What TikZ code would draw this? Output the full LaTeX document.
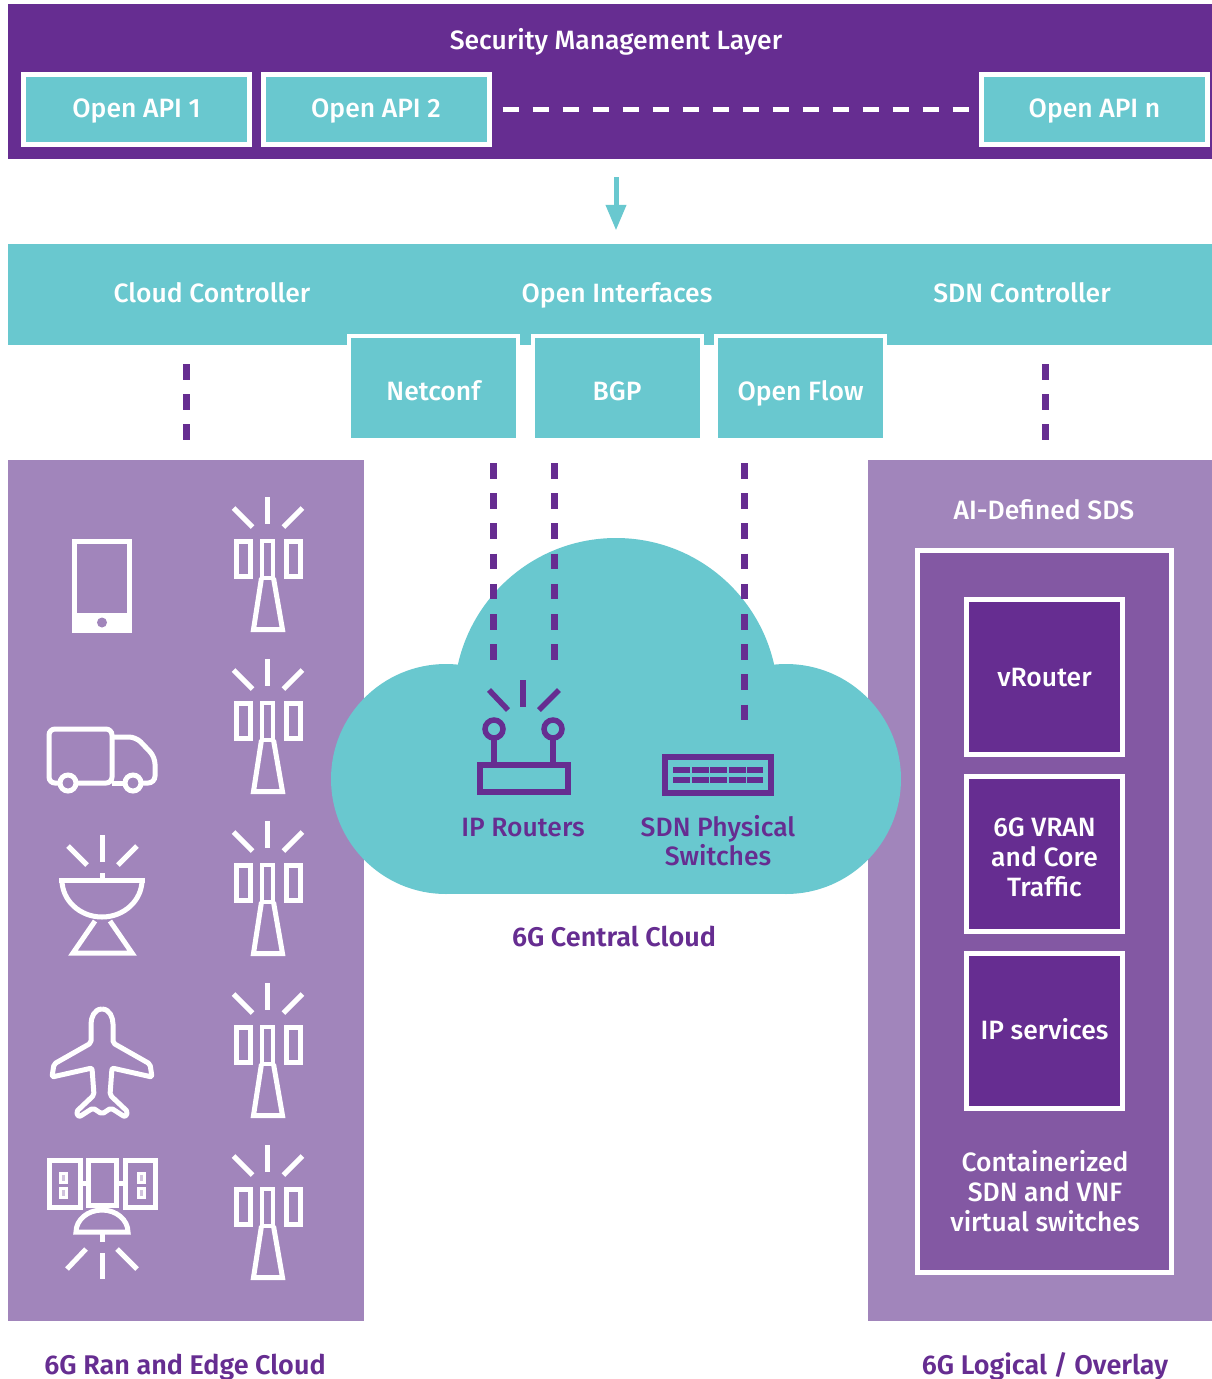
\documentclass[tikz,border=0pt]{standalone}
\usepackage{fontspec}
\setmainfont{Fira Sans}[UprightFont=* Medium, BoldFont=* SemiBold]
\usetikzlibrary{shapes.geometric, arrows}
\definecolor{darkpurple}{HTML}{662D91}
\definecolor{midpurple}{HTML}{8358A3}
\definecolor{lavender}{HTML}{A185BB}
\definecolor{aqua}{HTML}{69C8CF}
\tikzstyle{bar} = [rectangle, inner sep=0pt, text centered]
\tikzstyle{oneline} = [text height=18.3pt, text depth=0pt]
\tikzstyle{label} = [inner sep=0pt, text=white, font=\fontsize{26.5}{30}\selectfont, align=center]
\tikzstyle{caption} = [inner sep=0pt, text=darkpurple, font=\fontsize{27}{29}\selectfont\bfseries, align=center]
\tikzstyle{apibox} = [rectangle, inner sep=0pt, minimum width=226pt, minimum height=70pt, draw=white, line width=5pt, fill=aqua, text=white, text height=16.4pt, text depth=0pt, font=\fontsize{26.5}{30}\selectfont]
\tikzstyle{protobox} = [rectangle, inner sep=0pt, minimum width=169pt, minimum height=104pt, draw=white, line width=4pt, fill=aqua, text=white, text height=24pt, text depth=0pt, font=\fontsize{26.5}{30}\selectfont]
\tikzstyle{funcbox} = [rectangle, inner sep=0pt, minimum width=156pt, minimum height=155pt, draw=white, line width=5pt, fill=darkpurple, text=white, align=center, font=\fontsize{26.5}{30}\selectfont]
\tikzstyle{arrow} = [line width=5pt, aqua, ->, >=triangle 45]
\tikzstyle{whitedash} = [line width=5pt, white, dash pattern=on 16pt off 14pt]
\tikzstyle{purpledash} = [line width=7pt, darkpurple, dash pattern=on 15.5pt off 14.7pt]
\tikzstyle{iconw} = [draw=white, line width=5pt]
\tikzstyle{iconp} = [draw=darkpurple, line width=5.5pt]
\tikzset{
	rays/.pic={
		\draw [iconw] (0,0) -- (0,27);
		\draw [iconw] (-34,11) -- (-15,30);
		\draw [iconw] (35,11) -- (16,30);
	},
	tower/.pic={
		\pic at (0,0) {rays};
		\draw [iconw] (-31.5,44.5) rectangle (-17,79);
		\draw [iconw, line width=4pt] (-5.5,44) rectangle (5.5,81);
		\draw [iconw] (18.5,44.5) rectangle (33,79);
		\draw [iconw, line join=miter] (-6,81) -- (-14,132.5) -- (15,132.5) -- (6,81);
	}
}
\begin{document}
\begin{tikzpicture}[x=1pt, y=-1pt, node distance=100pt]
	\useasboundingbox (0,0) rectangle (1212,1379);
	\fill [white] (0,0) rectangle (1212,1379);
	\node (secbar) [bar, fill=darkpurple, minimum width=1204pt, minimum height=155pt] at (610,81.5) {};
	\node (seclabel) [label, oneline] at (616,40) {Security Management Layer};
	\node (api1) [apibox] at (136.5,109) {Open API 1};
	\node (api2) [apibox, right of=api1, xshift=139.5pt] {Open API 2};
	\node (apin) [apibox] at (1094.5,109) {Open API n};
	\draw [whitedash] ([xshift=11pt]api2.east) -- ([xshift=-9pt]apin.west);
	
	\node (ctrlbar) [bar, fill=aqua, minimum width=1204pt, minimum height=101pt] at (610,294.5) {};
	\draw [arrow, shorten <=18pt, shorten >=14pt] (secbar.south -| seclabel) -- (ctrlbar.north -| seclabel);
	\node (cloudctrl) [label, oneline] at (212,293) {Cloud Controller};
	\node (openif) [label, oneline] at (617,293) {Open Interfaces};
	\node (sdnctrl) [label, oneline] at (1022,293) {SDN Controller};
	\node (netconf) [protobox] at (433.5,388) {Netconf};
	\node (bgp) [protobox, right of=netconf, xshift=83.5pt] {BGP};
	\node (openflow) [protobox, right of=bgp, xshift=83.5pt] {Open Flow};
	
	\node (ranpanel) [bar, fill=lavender, minimum width=356pt, minimum height=861pt] at (186,890.5) {};
	\node (sdspanel) [bar, fill=lavender, minimum width=344pt, minimum height=861pt] at (1040,890.5) {};
	\coordinate (rantop) at (186,364);
	\coordinate (ranend) at (186,440);
	\coordinate (sdstop) at (1045,364);
	\coordinate (sdsend) at (1045,440);
	\draw [purpledash] (rantop) -- (ranend);
	\draw [purpledash] (sdstop) -- (sdsend);
	
	\fill [aqua] (616,700) circle (162);
	\fill [aqua] (446,779) circle (115);
	\fill [aqua] (786,779) circle (115);
	\fill [aqua] (446,700) rectangle (786,894);
	\coordinate (dash1a) at (493,463);
	\coordinate (dash1b) at (493,660);
	\coordinate (dash2a) at (554,463);
	\coordinate (dash2b) at (554,660);
	\coordinate (dash3a) at (744,463);
	\coordinate (dash3b) at (744,720);
	\draw [purpledash] (dash1a) -- (dash1b);
	\draw [purpledash] (dash2a) -- (dash2b);
	\draw [purpledash] (dash3a) -- (dash3b);
	
	% router
	\draw [iconp] (523,680) -- (523,707);
	\draw [iconp] (489,690) -- (508,710);
	\draw [iconp] (559,690) -- (539,710);
	\draw [iconp] (494,729) circle (9);
	\draw [iconp] (553,729) circle (9);
	\draw [iconp] (494,738) -- (494,765);
	\draw [iconp] (553,738) -- (553,765);
	\draw [iconp] (480,765) rectangle (568,792);
	% switch
	\draw [iconp] (665,757) rectangle (771,793);
	\draw [line width=6pt, darkpurple, dash pattern=on 17pt off 1.5pt] (673,770) -- (763,770);
	\draw [line width=6pt, darkpurple, dash pattern=on 17pt off 1.5pt] (673,780) -- (763,780);
	\node (iprouters) [label, text=darkpurple, oneline] at (523,827) {IP Routers};
	\node (sdnswitch) [label, text=darkpurple, font=\fontsize{26.5}{29}\selectfont] at (718,841) {SDN Physical\\Switches};
	\node (central) [caption, oneline] at (614,937) {6G Central Cloud};
	
	% towers
	\pic at (267.5,497) {tower};
	\pic at (267.5,659) {tower};
	\pic at (267.5,821) {tower};
	\pic at (267.5,983) {tower};
	\pic at (267.5,1145) {tower};
	% tablet
	\draw [iconw] (74.5,541.5) rectangle (129.5,630.5);
	\fill [white] (74,613) rectangle (130,631);
	\fill [lavender] (102,622.5) circle (5);
	% truck
	\draw [iconw, rounded corners=6pt] (60,783) -- (49,783) -- (49,729) -- (112,729) -- (112,783) -- (76,783);
	\draw [iconw, rounded corners=7pt] (112,737) -- (136,737) -- (155,757) -- (155,783) -- (141,783);
	\draw [iconw] (125,783) -- (112,783);
	\draw [iconw] (68,783) circle (8);
	\draw [iconw] (133,783) circle (8);
	% dish
	\pic at (102,835) {rays};
	\draw [iconw] (102,873) -- (102,880);
	\draw [iconw] (59,880.5) -- (145,880.5);
	\draw [iconw] (62,880) arc (180:0:40 and 37);
	\draw [iconw] (95,921) -- (73,953) -- (132,953) -- (110,921);
	% plane
	\draw [iconw, line join=round, rounded corners=2pt] (102,1009) .. controls (94,1009) and (91,1018) .. (91,1026) -- (91,1043) -- (54,1064) -- (52,1077) -- (92,1068) -- (94,1095) -- (76,1112) -- (79,1117) -- (93,1108) -- (102,1114) -- (111,1108) -- (125,1117) -- (128,1112) -- (110,1095) -- (112,1068) -- (152,1077) -- (150,1064) -- (113,1043) -- (113,1026) .. controls (113,1018) and (110,1009) .. (102,1009);
	% satellite
	\draw [iconw] (49.5,1160.5) rectangle (80,1207);
	\draw [iconw] (88.5,1160.5) rectangle (116.5,1205);
	\draw [iconw] (125,1160.5) rectangle (155,1207);
	\draw [iconw] (80,1183) -- (88,1183);
	\draw [iconw] (117,1183) -- (125,1183);
	\draw [draw=white, fill=white!50!lavender, line width=3pt] (60,1173.5) rectangle (66,1182);
	\draw [draw=white, fill=white!50!lavender, line width=3pt] (60,1188.5) rectangle (66,1197);
	\draw [draw=white, fill=white!50!lavender, line width=3pt] (138,1173.5) rectangle (144,1182);
	\draw [draw=white, fill=white!50!lavender, line width=3pt] (138,1188.5) rectangle (144,1197);
	\draw [iconw] (76,1232) arc (180:360:26 and 22) -- cycle;
	\draw [iconw] (102,1234) -- (102,1242);
	\draw [iconw] (102,1253) -- (102,1279);
	\draw [iconw] (86,1249) -- (67,1269);
	\draw [iconw] (117,1249) -- (137,1269);
	
	\node (sdstitle) [label, oneline] at (1044,510) {AI-Defined SDS};
	\node (sdsbox) [rectangle, inner sep=0pt, minimum width=254pt, minimum height=722pt, draw=white, line width=5pt, fill=midpurple] at (1044.5,911.5) {};
	\node (vrouter) [funcbox, oneline] at (1044.5,677) {vRouter};
	\node (vran) [funcbox, below of=vrouter, yshift=-76.5pt] {};
	\node (vrantext) [label] at ([yshift=-3.5pt]vran) {6G VRAN\\and Core\\Traffic};
	\node (ipserv) [funcbox, oneline, below of=vran, yshift=-77pt] {IP services};
	\node (contain) [label] at (1045,1191) {Containerized\\SDN and VNF\\virtual switches};
	
	\node (rancap) [caption, oneline] at (185,1365) {6G Ran and Edge Cloud};
	\node (logcap) [caption, oneline] at (1045,1365) {6G Logical / Overlay};
\end{tikzpicture}
\end{document}
